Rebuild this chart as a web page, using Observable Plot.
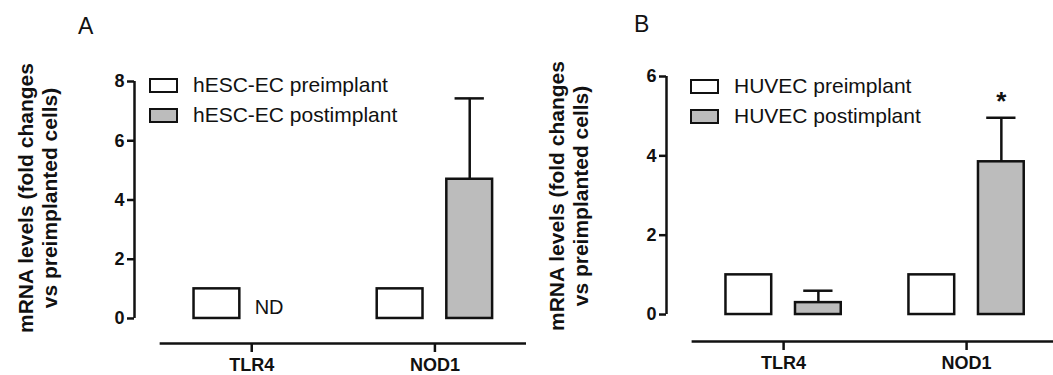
<!DOCTYPE html>
<html>
<head>
<meta charset="utf-8">
<script src="https://cdn.jsdelivr.net/npm/d3@7"></script>
<script src="https://cdn.jsdelivr.net/npm/@observablehq/plot@0.6"></script>
<style>
  html, body { margin: 0; padding: 0; background: #fff; }
  body { font-family: Arial, "Liberation Sans", sans-serif; }
  #wrap { position: relative; width: 1053px; height: 375px; overflow: hidden; }
  .panel { position: absolute; top: 0; }
  .letter { position: absolute; font-size: 23px; color: #111; }
  .ylab { position: absolute; width: 320px; text-align: center; font-weight: bold; font-size: 21px; line-height: 24px; color: #111; transform: translate(-50%, -50%) rotate(-90deg); white-space: nowrap; }
  .leg { position: absolute; font-size: 21px; color: #111; }
  .leg .row { display: flex; align-items: center; height: 30px; }
  .leg .sw { width: 25px; height: 11px; border: 2.5px solid #111; margin-right: 15px; }
</style>
</head>
<body>
<div id="wrap"></div>
<script>
// ---- data ----
const genes = ["TLR4", "NOD1"];
const seriesA = ["hESC-EC preimplant", "hESC-EC postimplant"];
const seriesB = ["HUVEC preimplant", "HUVEC postimplant"];
const preA = [1, 1];
const postA = [null, 4.7];      // null = not detected (ND)
const semA = [null, 2.73];
const preB = [1, 1];
const postB = [0.30, 3.85];
const semB = [0.30, 1.11];
const sigB = ["", "*"];
const yTicksA = [0, 2, 4, 6, 8];
const yTicksB = [0, 2, 4, 6];

const GRAY = "#bcbcbc";
const INK = "#111";
const FONT = "Arial, 'Liberation Sans', sans-serif";

function panel({pre, post, sem, sig, yMax, yMin, yTicks, marginLeft, marginTop, marginBottom, width, xMax, axisEnd}) {
  const xMin = -0.64;
  const half = 0.125, off = 0.19;
  const rows = [];
  genes.forEach((g, i) => {
    rows.push({i, s: "pre", v: pre[i]});
    rows.push({i, s: "post", v: post[i], e: sem ? sem[i] : null, sig: sig ? sig[i] : ""});
  });
  const bars = rows.filter(d => d.v != null);
  const errs = rows.filter(d => d.s === "post" && d.v != null && d.e != null);
  const nd = rows.filter(d => d.s === "post" && d.v == null);
  const stars = rows.filter(d => d.sig);
  const cx = d => d.i + (d.s === "pre" ? -off : off);
  return Plot.plot({
    width, height: 375,
    marginLeft, marginRight: 0, marginTop, marginBottom,
    style: {fontFamily: FONT, color: INK, background: "transparent", overflow: "visible"},
    x: {type: "linear", domain: [xMin, xMax], axis: null},
    y: {domain: [yMin, yMax], axis: null},
    marks: [
      // y axis line
      Plot.ruleX([xMin], {y1: 0, y2: yMax, stroke: INK, strokeWidth: 2.5}),
      Plot.axisY(yTicks, {anchor: "left", tickSize: 7, tickPadding: 3, fontSize: 18, fontWeight: "bold", strokeWidth: 2.5, stroke: INK, fill: INK, tickFormat: d => d}),
      // x axis line (offset below zero)
      Plot.ruleY([yMin], {x1: -0.5, x2: axisEnd, stroke: INK, strokeWidth: 2.5}),
      Plot.axisX([0, 1], {anchor: "bottom", tickSize: 9, tickPadding: 6, fontSize: 18, fontWeight: "bold", strokeWidth: 2.5, stroke: INK, fill: INK, tickFormat: i => genes[i]}),
      // error bars
      Plot.ruleX(errs, {x: cx, y1: d => d.v, y2: d => d.v + d.e, stroke: INK, strokeWidth: 2.5}),
      Plot.ruleY(errs, {y: d => d.v + d.e, x1: d => cx(d) - 0.08, x2: d => cx(d) + 0.08, stroke: INK, strokeWidth: 2.5}),
      // bars
      Plot.rectY(bars, {x1: d => cx(d) - half, x2: d => cx(d) + half, y1: 0, y2: d => d.v,
        fill: d => d.s === "pre" ? "#fff" : GRAY, stroke: INK, strokeWidth: 2.5}),
      // ND label
      Plot.text(nd, {x: d => cx(d) - half, y: 0, text: () => "ND", textAnchor: "start", dx: -9, dy: -11, fontSize: 20, fill: INK}),
      // significance
      Plot.text(stars, {x: cx, y: d => d.v + d.e, text: d => d.sig, dy: -16, fontSize: 26, fontWeight: "bold", fill: INK})
    ]
  });
}

const wrap = document.getElementById("wrap");

function addPanel(left, svg) {
  svg.classList.add("panel");
  svg.style.left = left + "px";
  wrap.appendChild(svg);
}

addPanel(0, panel({pre: preA, post: postA, sem: semA, yMax: 8, yMin: -0.845, yTicks: yTicksA,
  marginLeft: 134, marginTop: 81, marginBottom: 32, width: 526, xMax: 1.5, axisEnd: 1.5}));
addPanel(526, panel({pre: preB, post: postB, sem: semB, sig: sigB, yMax: 6, yMin: -0.68, yTicks: yTicksB,
  marginLeft: 140, marginTop: 76, marginBottom: 34, width: 527, xMax: 1.475, axisEnd: 1.6}));

function addHTML(cls, left, top, html) {
  const d = document.createElement("div");
  d.className = cls;
  d.style.left = left + "px";
  d.style.top = top + "px";
  d.innerHTML = html;
  wrap.appendChild(d);
  return d;
}

addHTML("letter", 78, 13, "A");
addHTML("letter", 634, 11, "B");
const ylabText = "mRNA levels (fold changes<br>vs preimplanted cells)";
addHTML("ylab", 38, 198, ylabText);
addHTML("ylab", 569, 196, ylabText);

function legend(left, top, names) {
  const html = names.map((n, k) =>
    `<div class="row"><div class="sw" style="background:${k === 0 ? "#fff" : GRAY}"></div><span>${n}</span></div>`).join("");
  addHTML("leg", left, top, html);
}
legend(149, 70, seriesA);
legend(690, 71, seriesB);
</script>
</body>
</html>
